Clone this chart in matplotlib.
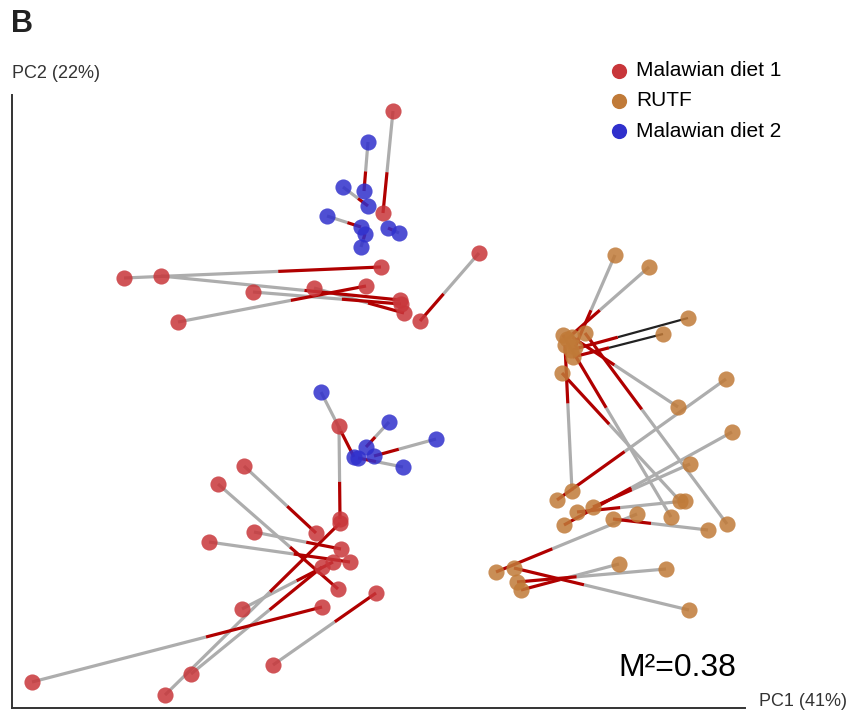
import numpy as np
import matplotlib.pyplot as plt
from matplotlib.collections import LineCollection

plt.rcParams['font.family'] = ['Liberation Sans', 'DejaVu Sans']

# Procrustes pairs: (PC1, PC2) of the fitted end (red half) and the target end (grey half)
diet1_fit = [(-0.017, 0.187), (0.020, 0.079), (-0.019, 0.133), (-0.034, 0.114),
             (0.000, 0.100), (0.001, 0.096), (0.004, 0.087), (-0.060, -0.119),
             (-0.084, -0.133), (-0.062, -0.189), (-0.059, -0.149), (-0.050, -0.162),
             (-0.060, -0.123), (-0.067, -0.162), (-0.078, -0.167), (-0.078, -0.207),
             (-0.024, -0.193)]
diet1_ref = [(-0.007, 0.289), (0.079, 0.147), (-0.276, 0.122), (-0.222, 0.078),
             (-0.239, 0.124), (-0.147, 0.108), (-0.086, 0.112), (-0.061, -0.026),
             (-0.156, -0.066), (-0.182, -0.084), (-0.146, -0.132), (-0.191, -0.142),
             (-0.235, -0.295), (-0.158, -0.209), (-0.209, -0.274), (-0.368, -0.282),
             (-0.127, -0.265)]

rutf_fit = [(0.175, 0.053), (0.167, 0.061), (0.171, 0.050), (0.173, 0.043),
            (0.163, 0.065), (0.185, 0.067), (0.162, 0.027), (0.172, 0.063),
            (0.165, 0.055), (0.157, -0.100), (0.164, -0.125), (0.193, -0.107),
            (0.177, -0.112), (0.213, -0.119), (0.096, -0.172), (0.114, -0.168),
            (0.117, -0.182), (0.121, -0.190)]
rutf_ref = [(0.215, 0.145), (0.249, 0.133), (0.288, 0.082), (0.263, 0.066),
            (0.271, -0.117), (0.327, -0.124), (0.280, -0.101), (0.278, -0.007),
            (0.172, -0.091), (0.326, 0.021), (0.332, -0.032), (0.290, -0.064),
            (0.285, -0.101), (0.308, -0.130), (0.237, -0.114), (0.289, -0.210),
            (0.266, -0.169), (0.219, -0.164)]
rutf_dark = [2, 3]  # these two pairs are drawn with a dark line

diet2_fit = [(-0.036, 0.209), (-0.032, 0.194), (-0.039, 0.173), (-0.035, 0.166),
             (-0.012, 0.172), (-0.046, -0.057), (-0.034, -0.047), (-0.026, -0.056),
             (-0.042, -0.058)]
diet2_ref = [(-0.032, 0.258), (-0.057, 0.213), (-0.073, 0.184), (-0.039, 0.153),
             (-0.001, 0.167), (-0.079, 0.008), (-0.011, -0.022), (0.036, -0.039),
             (0.003, -0.067)]

groups = [("Malawian diet 1", diet1_fit, diet1_ref, [], "#c8363a"),
          ("RUTF", rutf_fit, rutf_ref, rutf_dark, "#c07a38"),
          ("Malawian diet 2", diet2_fit, diet2_ref, [], "#3030cc")]

fig = plt.figure(figsize=(8.58, 7.17), dpi=100)
ax = fig.add_axes([12 / 858, 9 / 717, 733 / 858, 613 / 717])

split = 0.4  # share of each line drawn red, from the fitted end
grey_segs, dark_segs, red_segs = [], [], []
for name, fit, ref, dark, col in groups:
    a = np.array(fit)
    b = np.array(ref)
    m = a + split * (b - a)
    for i in range(len(a)):
        red_segs.append([a[i], m[i]])
        if i in dark:
            dark_segs.append([m[i], b[i]])
        else:
            grey_segs.append([m[i], b[i]])

ax.add_collection(LineCollection(grey_segs, colors="#adadad", linewidths=2.3,
                                 capstyle="butt", zorder=1))
ax.add_collection(LineCollection(dark_segs, colors="#222222", linewidths=1.6,
                                 capstyle="butt", zorder=1))
ax.add_collection(LineCollection(red_segs, colors="#b00000", linewidths=2.3,
                                 capstyle="butt", zorder=2))

for name, fit, ref, dark, col in groups:
    pts = np.vstack([np.array(fit), np.array(ref)])
    ax.scatter(pts[:, 0], pts[:, 1], s=135, color=col, alpha=0.85,
               linewidths=0, zorder=3)
    ax.scatter([], [], s=120, color=col, linewidths=0, label=name)

ax.set_xlim(-0.388, 0.345)
ax.set_ylim(-0.308, 0.305)
ax.set_xticks([])
ax.set_yticks([])
for side in ["top", "right"]:
    ax.spines[side].set_visible(False)
for side in ["left", "bottom"]:
    ax.spines[side].set_linewidth(1.4)
    ax.spines[side].set_color("#333333")

ax.legend(loc="upper left", bbox_to_anchor=(609 / 858, 1 - 61 / 717),
          bbox_transform=fig.transFigure, frameon=False, fontsize=15,
          handletextpad=0.3, labelspacing=0.55, borderpad=0, borderaxespad=0,
          handlelength=1.0)

ax.text(0.907, 0.066, "M\u00b2=0.38", transform=ax.transAxes, fontsize=23,
        ha="center", va="center")
fig.text(12 / 858, 1 - 73 / 717, "PC2 (22%)", fontsize=13, ha="left",
         va="center", color="#333333")
fig.text(759 / 858, 1 - 701 / 717, "PC1 (41%)", fontsize=13, ha="left",
         va="center", color="#333333")
fig.text(11 / 858, 1 - 24 / 717, "B", fontsize=22, fontweight="bold",
         ha="left", va="center", color="#222222")

fig.savefig("out.png", dpi=100)
